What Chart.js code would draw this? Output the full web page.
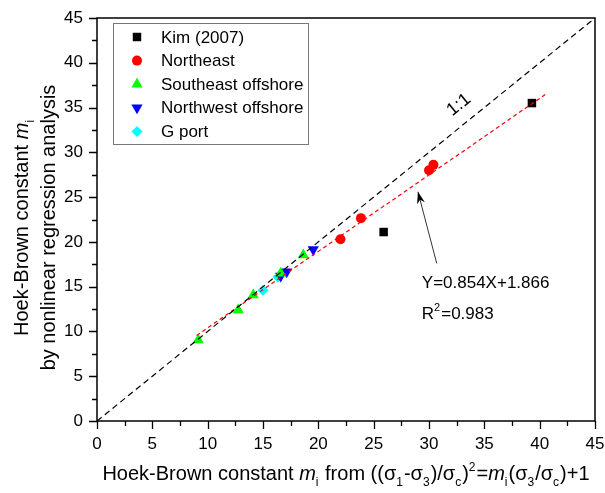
<!DOCTYPE html>
<html>
<head>
<meta charset="utf-8">
<script src="https://cdn.jsdelivr.net/npm/chart.js@4/dist/chart.umd.min.js"></script>
<style>
  html, body { margin: 0; padding: 0; background: #fff; }
  #wrap { width: 605px; height: 493px; }
</style>
</head>
<body>
<div id="wrap"><canvas id="c" width="605" height="493"></canvas></div>
<script>
// ---- data ----
const kimX = [25.9, 39.3];
const kimY = [21.1, 35.5];
const northeastX = [22.0, 23.85, 30.0, 30.4];
const northeastY = [20.3, 22.65, 28.0, 28.6];
const southeastX = [9.15, 12.76, 14.12, 16.6, 18.64];
const southeastY = [9.04, 12.39, 14.06, 16.5, 18.53];
const northwestX = [16.6, 17.14, 19.54];
const northwestY = [16.2, 16.66, 19.16];
const gportX = [15.0, 16.35];
const gportY = [14.6, 16.07];
const oneToOneX = [0, 45];
const oneToOneY = [0, 45];
const fitX = [9.0, 40.5];
const fitY = [9.55, 36.45];
const xTicks = [0, 5, 10, 15, 20, 25, 30, 35, 40, 45];
const yTicks = [0, 5, 10, 15, 20, 25, 30, 35, 40, 45];

const FONT = '"Liberation Sans", Arial, sans-serif';
const pts = (xs, ys) => xs.map((x, i) => ({ x: x, y: ys[i] }));

function drawRich(ctx, segs, x, y, size, align) {
  const parts = segs.map(s => {
    const fs = (s.sub || s.sup) ? Math.round(size * 0.62) : size;
    const f = (s.it ? 'italic ' : '') + fs + 'px ' + FONT;
    ctx.font = f;
    return { s: s, f: f, w: ctx.measureText(s.t).width + (s.sub || s.sup ? 1 : 0) };
  });
  const total = parts.reduce((a, p) => a + p.w, 0);
  let cx = align === 'center' ? x - total / 2 : x;
  ctx.textBaseline = 'alphabetic';
  ctx.textAlign = 'left';
  parts.forEach(p => {
    ctx.font = p.f;
    let dy = 0;
    if (p.s.sub) dy = size * 0.28;
    if (p.s.sup) dy = -size * 0.45;
    ctx.fillText(p.s.t, cx, y + dy);
    cx += p.w;
  });
}

const decor = {
  id: 'decor',
  beforeDatasetsDraw(chart) {
    const ctx = chart.ctx, a = chart.chartArea;
    const xs = chart.scales.x, ys = chart.scales.y;
    ctx.save();
    ctx.strokeStyle = '#000';
    ctx.lineWidth = 1.5;
    ctx.strokeRect(a.left, a.top, a.right - a.left, a.bottom - a.top);
    ctx.lineWidth = 1.3;
    ctx.beginPath();
    for (let v = 0; v <= 45.001; v += 2.5) {
      const major = Math.abs(v % 5) < 1e-6;
      const len = major ? 8 : 5;
      const px = Math.round(xs.getPixelForValue(v)) + 0.5;
      ctx.moveTo(px, a.bottom); ctx.lineTo(px, a.bottom + len);
      const py = Math.round(ys.getPixelForValue(v)) + 0.5;
      ctx.moveTo(a.left, py); ctx.lineTo(a.left - len, py);
    }
    ctx.stroke();
    ctx.restore();
  },
  afterDraw(chart) {
    const ctx = chart.ctx, a = chart.chartArea;
    const xs = chart.scales.x, ys = chart.scales.y;
    ctx.save();
    ctx.fillStyle = '#000';
    // x title
    drawRich(ctx, [
      { t: 'Hoek-Brown constant ' }, { t: 'm', it: true }, { t: 'i', sub: true },
      { t: ' from ((σ' }, { t: '1', sub: true }, { t: '-σ' }, { t: '3', sub: true },
      { t: ')/σ' }, { t: 'c', sub: true }, { t: ')' }, { t: '2', sup: true },
      { t: '=' }, { t: 'm', it: true }, { t: 'i', sub: true }, { t: '(σ' },
      { t: '3', sub: true }, { t: '/σ' }, { t: 'c', sub: true }, { t: ')+1' }
    ], (a.left + a.right) / 2, 480, 20, 'center');
    // y title
    ctx.save();
    ctx.translate(0, (a.top + a.bottom) / 2 + 8);
    ctx.rotate(-Math.PI / 2);
    drawRich(ctx, [{ t: 'Hoek-Brown constant ' }, { t: 'm', it: true }, { t: 'i', sub: true }], 0, 28, 20, 'center');
    drawRich(ctx, [{ t: 'by nonlinear regression analysis' }], 0, 55, 20, 'center');
    ctx.restore();

    // 1:1 label
    const ang = Math.atan2(ys.getPixelForValue(45) - ys.getPixelForValue(0), xs.getPixelForValue(45) - xs.getPixelForValue(0));
    ctx.save();
    ctx.translate(xs.getPixelForValue(32.7), ys.getPixelForValue(35.3));
    ctx.rotate(ang);
    ctx.font = '18px ' + FONT;
    ctx.textAlign = 'center';
    ctx.textBaseline = 'middle';
    ctx.fillText('1:1', 0, 0);
    ctx.restore();

    // arrow
    const tx = xs.getPixelForValue(30.7), ty = ys.getPixelForValue(17.6);
    const hx = xs.getPixelForValue(29.0), hy = ys.getPixelForValue(25.6);
    ctx.strokeStyle = '#000';
    ctx.lineWidth = 0.8;
    ctx.beginPath(); ctx.moveTo(tx, ty); ctx.lineTo(hx, hy); ctx.stroke();
    const th = Math.atan2(hy - ty, hx - tx);
    const L = 12, W = 4;
    ctx.beginPath();
    ctx.moveTo(hx, hy);
    ctx.lineTo(hx - L * Math.cos(th) + W * Math.sin(th), hy - L * Math.sin(th) - W * Math.cos(th));
    ctx.lineTo(hx - L * 0.7 * Math.cos(th), hy - L * 0.7 * Math.sin(th));
    ctx.lineTo(hx - L * Math.cos(th) - W * Math.sin(th), hy - L * Math.sin(th) + W * Math.cos(th));
    ctx.closePath(); ctx.fill();

    // equation text
    const ex = xs.getPixelForValue(29.35);
    drawRich(ctx, [{ t: 'Y=0.854X+1.866' }], ex, ys.getPixelForValue(14.8), 17, 'left');
    drawRich(ctx, [{ t: 'R' }, { t: '2', sup: true }, { t: '=0.983' }], ex, ys.getPixelForValue(11.4), 17, 'left');

    // legend
    ctx.strokeStyle = '#777';
    ctx.lineWidth = 1;
    ctx.strokeRect(113.5, 23.5, 195, 121);
    const sets = chart.data.datasets.filter(d => d.inLegend);
    sets.forEach((d, i) => {
      const cy = 37 + i * 23.6;
      ctx.fillStyle = d.backgroundColor;
      ctx.strokeStyle = d.backgroundColor;
      Chart.helpers.drawPoint(ctx, {
        pointStyle: d.pointStyle, radius: d.pointRadius, rotation: d.rotation || 0,
        borderWidth: 0
      }, 137, cy);
      ctx.fillStyle = '#000';
      ctx.font = '17px ' + FONT;
      ctx.textAlign = 'left';
      ctx.textBaseline = 'middle';
      ctx.fillText(d.label, 161, cy + 1);
    });
    ctx.restore();
  }
};

const scatterBase = { type: 'scatter', showLine: false, borderWidth: 0, order: 1, inLegend: true };

new Chart(document.getElementById('c'), {
  type: 'scatter',
  data: {
    datasets: [
      { type: 'line', label: '1:1', data: pts(oneToOneX, oneToOneY), borderColor: '#000', borderWidth: 1.2,
        borderDash: [6, 4], pointRadius: 0, fill: false, order: 0 },
      { type: 'line', label: 'fit', data: pts(fitX, fitY), borderColor: '#ff0000', borderWidth: 1.2,
        borderDash: [4, 3], pointRadius: 0, fill: false, order: 0 },
      Object.assign({}, scatterBase, { label: 'Kim (2007)', data: pts(kimX, kimY), pointStyle: 'rect',
        pointRadius: 6, backgroundColor: '#000000', borderColor: '#000000' }),
      Object.assign({}, scatterBase, { label: 'Northeast', data: pts(northeastX, northeastY), pointStyle: 'circle',
        pointRadius: 5, backgroundColor: '#ff0000', borderColor: '#ff0000' }),
      Object.assign({}, scatterBase, { label: 'Southeast offshore', data: pts(southeastX, southeastY), pointStyle: 'triangle',
        pointRadius: 6.5, backgroundColor: '#00ff00', borderColor: '#00ff00' }),
      Object.assign({}, scatterBase, { label: 'Northwest offshore', data: pts(northwestX, northwestY), pointStyle: 'triangle',
        rotation: 180, pointRotation: 180, pointRadius: 6.5, backgroundColor: '#0000ff', borderColor: '#0000ff' }),
      Object.assign({}, scatterBase, { label: 'G port', data: pts(gportX, gportY), pointStyle: 'rectRot',
        pointRadius: 5.5, backgroundColor: '#00ffff', borderColor: '#00ffff' })
    ]
  },
  options: {
    responsive: false,
    animation: false,
    devicePixelRatio: 1,
    layout: { padding: { top: 18, right: 10, left: 0, bottom: 0 } },
    plugins: { legend: { display: false }, tooltip: { enabled: false } },
    scales: {
      x: {
        type: 'linear', min: 0, max: 45,
        afterFit(s) { s.height = 72; s.paddingLeft = 0; s.paddingRight = 0; },
        afterBuildTicks(s) { s.ticks = xTicks.map(v => ({ value: v })); },
        grid: { display: false, drawTicks: false },
        border: { display: false },
        ticks: { padding: 13, color: '#000', font: { family: FONT, size: 17 }, maxRotation: 0 }
      },
      y: {
        type: 'linear', min: 0, max: 45,
        afterFit(s) { s.width = 97; s.paddingTop = 0; s.paddingBottom = 0; },
        afterBuildTicks(s) { s.ticks = yTicks.map(v => ({ value: v })); },
        grid: { display: false, drawTicks: false },
        border: { display: false },
        ticks: { padding: 14, color: '#000', font: { family: FONT, size: 17 } }
      }
    }
  },
  plugins: [decor]
});
</script>
</body>
</html>
